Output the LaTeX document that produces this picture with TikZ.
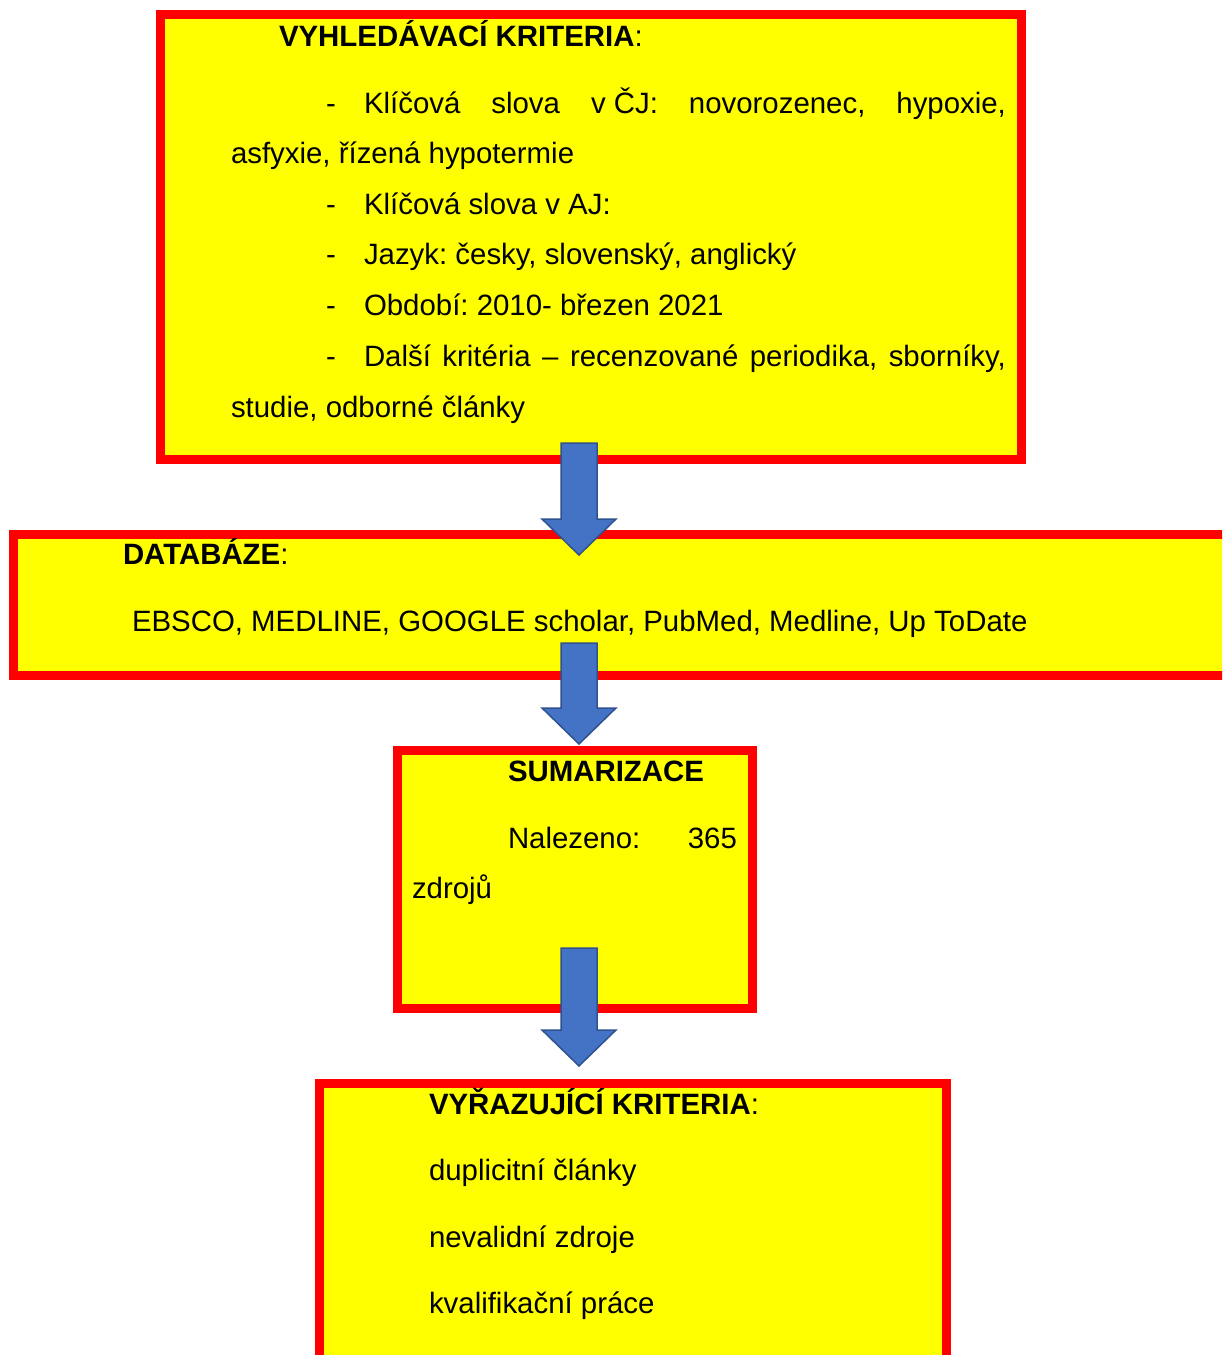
\documentclass[tikz,border=0pt]{standalone}
\usepackage{fontspec}
\setmainfont{Liberation Sans}
\usetikzlibrary{calc}
\frenchspacing

\definecolor{boxred}{RGB}{255,0,0}
\definecolor{boxyellow}{RGB}{255,255,0}
\definecolor{arrowblue}{HTML}{4472C4}
\definecolor{arrowedge}{HTML}{2F528F}

% block arrow from top centre #1 to tip #2
\newcommand{\flowarrow}[2]{%
  \draw[blockarrow] ($(#1)+(-18,0)$) -- ($(#1)+(18,0)$) -- ($(#2)+(18,-36)$)
    -- ($(#2)+(37,-36)$) -- (#2) -- ($(#2)+(-37,-36)$) -- ($(#2)+(-18,-36)$) -- cycle;}

\begin{document}
\begin{tikzpicture}[x=0.5pt,y=-0.5pt,
        box/.style={% For the main boxes
            rectangle,
            draw=boxred,
            line width=4.5pt,
            fill=boxyellow,
            inner sep=0pt,
            outer sep=0pt,
            },
        txt/.style={% For the lines of text
            anchor=base west,
            inner sep=0pt,
            outer sep=0pt,
            font=\fontsize{14.7}{18}\selectfont,
            },
        blockarrow/.style={% Blue block arrows
            fill=arrowblue,
            draw=arrowedge,
            line width=0.75pt,
            line join=miter,
            },
            ]
    \useasboundingbox (0,0) rectangle (1222,1355);
    \clip (0,0) rectangle (1222,1355);
    % boxes
    \node[box, minimum width=430.5pt, minimum height=222.5pt] (crit) at (591,237) {};
    \node[box, minimum width=613.25pt, minimum height=70.5pt] (dbase) at (626.75,605) {};
    \node[box, minimum width=177.5pt, minimum height=129pt] (summ) at (575,879.5) {};
    \node[box, minimum width=313.5pt, minimum height=137.75pt] (excl) at (633,1221.25) {};
    % search criteria
    \node[txt] (critHead) at (279,46) {\textbf{VYHLEDÁVACÍ KRITERIA}:};
    \node[txt] (critD1) at (326,113) {-};
    \node[txt] (critL1) at (364,113) {\makebox[321pt][s]{Klíčová slova \mbox{v ČJ:} novorozenec, hypoxie,}};
    \node[txt] (critL1b) at (231,163) {asfyxie, řízená hypotermie};
    \node[txt] (critD2) at (326,214) {-};
    \node[txt] (critL2) at (364,214) {Klíčová slova v AJ:};
    \node[txt] (critD3) at (326,264.5) {-};
    \node[txt] (critL3) at (364,264.5) {Jazyk: česky, slovenský, anglický};
    \node[txt] (critD4) at (326,315) {-};
    \node[txt] (critL4) at (364,315) {Období: 2010- březen 2021};
    \node[txt] (critD5) at (326,366) {-};
    \node[txt] (critL5) at (364,366) {\makebox[321pt][s]{Další kritéria – recenzované periodika, sborníky,}};
    \node[txt] (critL5b) at (231,417) {studie, odborné články};
    % databases
    \node[txt] (dbHead) at (123,564.5) {\textbf{DATABÁZE}:};
    \node[txt] (dbList) at (132,631) {EBSCO, MEDLINE, GOOGLE scholar, PubMed, Medline, Up ToDate};
    % summary
    \node[txt] (summHead) at (508,781) {\textbf{SUMARIZACE}};
    \node[txt] (summL1) at (508,848.5) {\makebox[114.5pt][s]{Nalezeno: 365}};
    \node[txt] (summL2) at (412,898.5) {zdrojů};
    % exclusion criteria
    \node[txt] (exclHead) at (429,1114.5) {\textbf{VYŘAZUJÍCÍ KRITERIA}:};
    \node[txt] (exclL1) at (429,1180.5) {duplicitní články};
    \node[txt] (exclL2) at (429,1247) {nevalidní zdroje};
    \node[txt] (exclL3) at (429,1313.5) {kvalifikační práce};
    % arrows
    \coordinate (ax) at (579,0);
    \coordinate (a1top) at ($(crit.south -| ax)+(0,-16.5)$);
    \coordinate (a1tip) at ($(dbase.north -| ax)+(0,20.5)$);
    \coordinate (a2top) at ($(dbase.south -| ax)+(0,-32.5)$);
    \coordinate (a2tip) at ($(summ.north -| ax)+(0,-6.5)$);
    \coordinate (a3top) at ($(summ.south -| ax)+(0,-60.5)$);
    \coordinate (a3tip) at ($(excl.north -| ax)+(0,-17.5)$);
    \flowarrow{a1top}{a1tip}
    \flowarrow{a2top}{a2tip}
    \flowarrow{a3top}{a3tip}
\end{tikzpicture}
\end{document}
